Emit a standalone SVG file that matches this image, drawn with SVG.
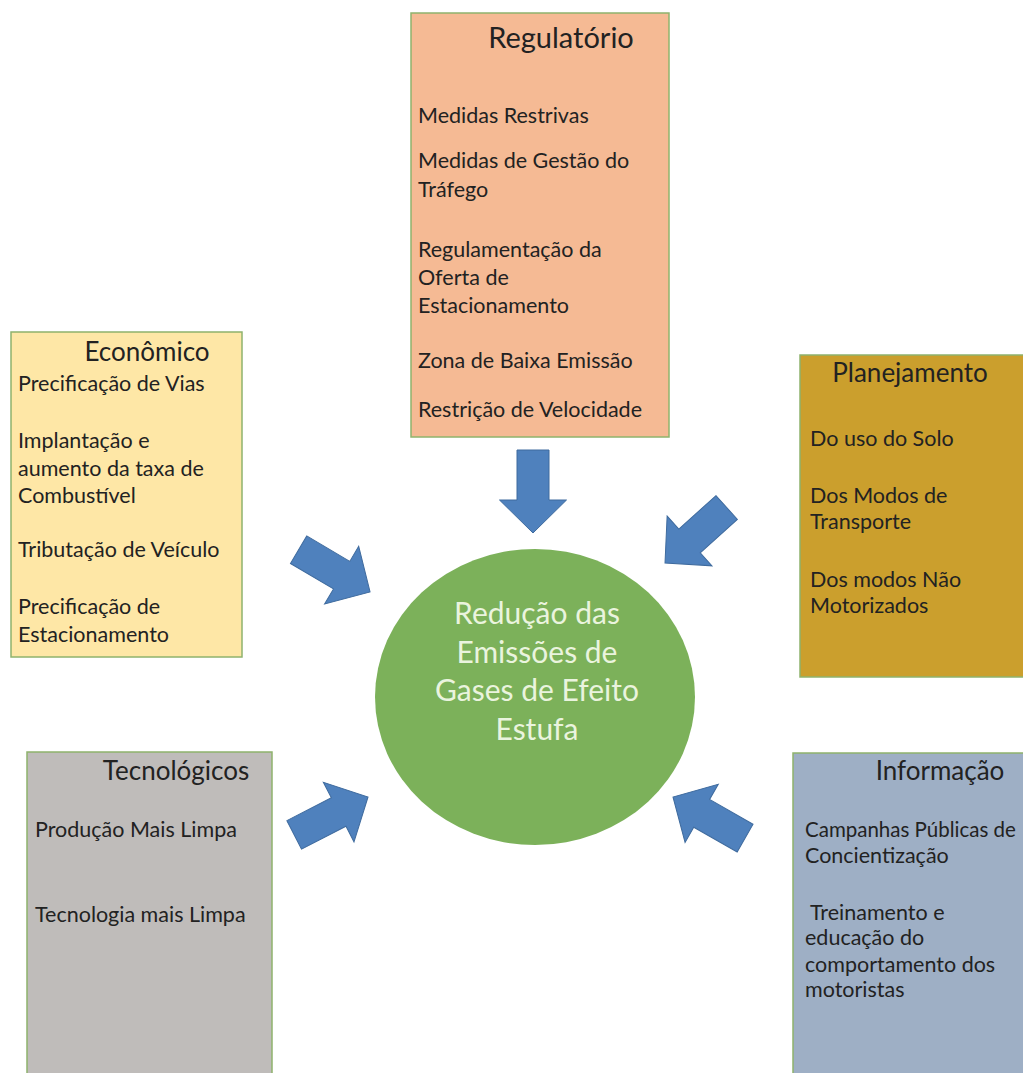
<svg xmlns="http://www.w3.org/2000/svg" xmlns:xlink="http://www.w3.org/1999/xlink" width="1023" height="1073" viewBox="0 0 1023 1073">
<style>
  .box { stroke: #8fb36c; stroke-width: 1.5; }
  .t { font-family: Lato, "Open Sans", sans-serif; fill: #222; }
  .title { font-size: 26px; text-anchor: middle; }
  .body { font-size: 21.5px; }
  .ctext { font-family: Lato, "Open Sans", sans-serif; font-size: 30px; fill: #eaf4de; text-anchor: middle; }
  .arr { fill: #4f81bd; stroke: #3f6b9e; stroke-width: 1; }
</style>
<defs>
  <path id="arrow" d="M0,-16 H50 V-33.5 L83,0 L50,33.5 V16 H0 Z"/>
</defs>
<rect width="1023" height="1073" fill="#ffffff"/>

<g id="regulatorio">
  <rect class="box" x="411" y="13" width="258" height="424" fill="#f5ba94"/>
  <text class="t title" x="561" y="48" style="font-size:29px">Regulatório</text>
  <text class="t body" x="418" y="123">Medidas Restrivas</text>
  <text class="t body" x="418" y="168">Medidas de Gestão do</text>
  <text class="t body" x="418" y="197">Tráfego</text>
  <text class="t body" x="418" y="257">Regulamentação da</text>
  <text class="t body" x="418" y="285">Oferta de</text>
  <text class="t body" x="418" y="313">Estacionamento</text>
  <text class="t body" x="418" y="368">Zona de Baixa Emissão</text>
  <text class="t body" x="418" y="417">Restrição de Velocidade</text>
</g>

<g id="economico">
  <rect class="box" x="11" y="332" width="231" height="325" fill="#fee7a6"/>
  <text class="t title" x="147" y="361">Econômico</text>
  <text class="t body" x="18" y="391">Precificação de Vias</text>
  <text class="t body" x="18" y="448">Implantação e</text>
  <text class="t body" x="18" y="476">aumento da taxa de</text>
  <text class="t body" x="18" y="503">Combustível</text>
  <text class="t body" x="18" y="557">Tributação de Veículo</text>
  <text class="t body" x="18" y="614">Precificação de</text>
  <text class="t body" x="18" y="642">Estacionamento</text>
</g>

<g id="planejamento">
  <rect class="box" x="800" y="355" width="240" height="322" fill="#cb9f2d"/>
  <text class="t title" x="910" y="382">Planejamento</text>
  <text class="t body" x="810" y="446">Do uso do Solo</text>
  <text class="t body" x="810" y="503">Dos Modos de</text>
  <text class="t body" x="810" y="529">Transporte</text>
  <text class="t body" x="810" y="587">Dos modos Não</text>
  <text class="t body" x="810" y="613">Motorizados</text>
</g>

<g id="tecnologicos">
  <rect class="box" x="27" y="752" width="245" height="340" fill="#bfbcba"/>
  <text class="t title" x="176" y="780">Tecnológicos</text>
  <text class="t body" x="35" y="837">Produção Mais Limpa</text>
  <text class="t body" x="35" y="922">Tecnologia mais Limpa</text>
</g>

<g id="informacao">
  <rect class="box" x="793" y="753" width="250" height="340" fill="#9eafc5"/>
  <text class="t title" x="940" y="780">Informação</text>
  <text class="t body" x="805" y="837" style="font-size:20.5px">Campanhas Públicas de</text>
  <text class="t body" x="805" y="863">Concientização</text>
  <text class="t body" x="810" y="920">Treinamento e</text>
  <text class="t body" x="805" y="945">educação do</text>
  <text class="t body" x="805" y="972">comportamento dos</text>
  <text class="t body" x="805" y="997">motoristas</text>
</g>

<g id="centro">
  <ellipse cx="535" cy="697" rx="160" ry="148" fill="#7cb15a"/>
  <text class="ctext" x="537" y="624">Redução das</text>
  <text class="ctext" x="537" y="663">Emissões de</text>
  <text class="ctext" x="537" y="701">Gases de Efeito</text>
  <text class="ctext" x="537" y="740">Estufa</text>
</g>

<g id="connectors">
  <use xlink:href="#arrow" class="arr" transform="translate(533,450) rotate(90)"/>
  <use xlink:href="#arrow" class="arr" transform="translate(298.6,549.7) rotate(30.6)"/>
  <use xlink:href="#arrow" class="arr" transform="translate(726.7,507.5) rotate(138)"/>
  <use xlink:href="#arrow" class="arr" transform="translate(294.2,834.9) rotate(-27.2)"/>
  <use xlink:href="#arrow" class="arr" transform="translate(745.1,838.1) rotate(209.7)"/>
</g>
</svg>
